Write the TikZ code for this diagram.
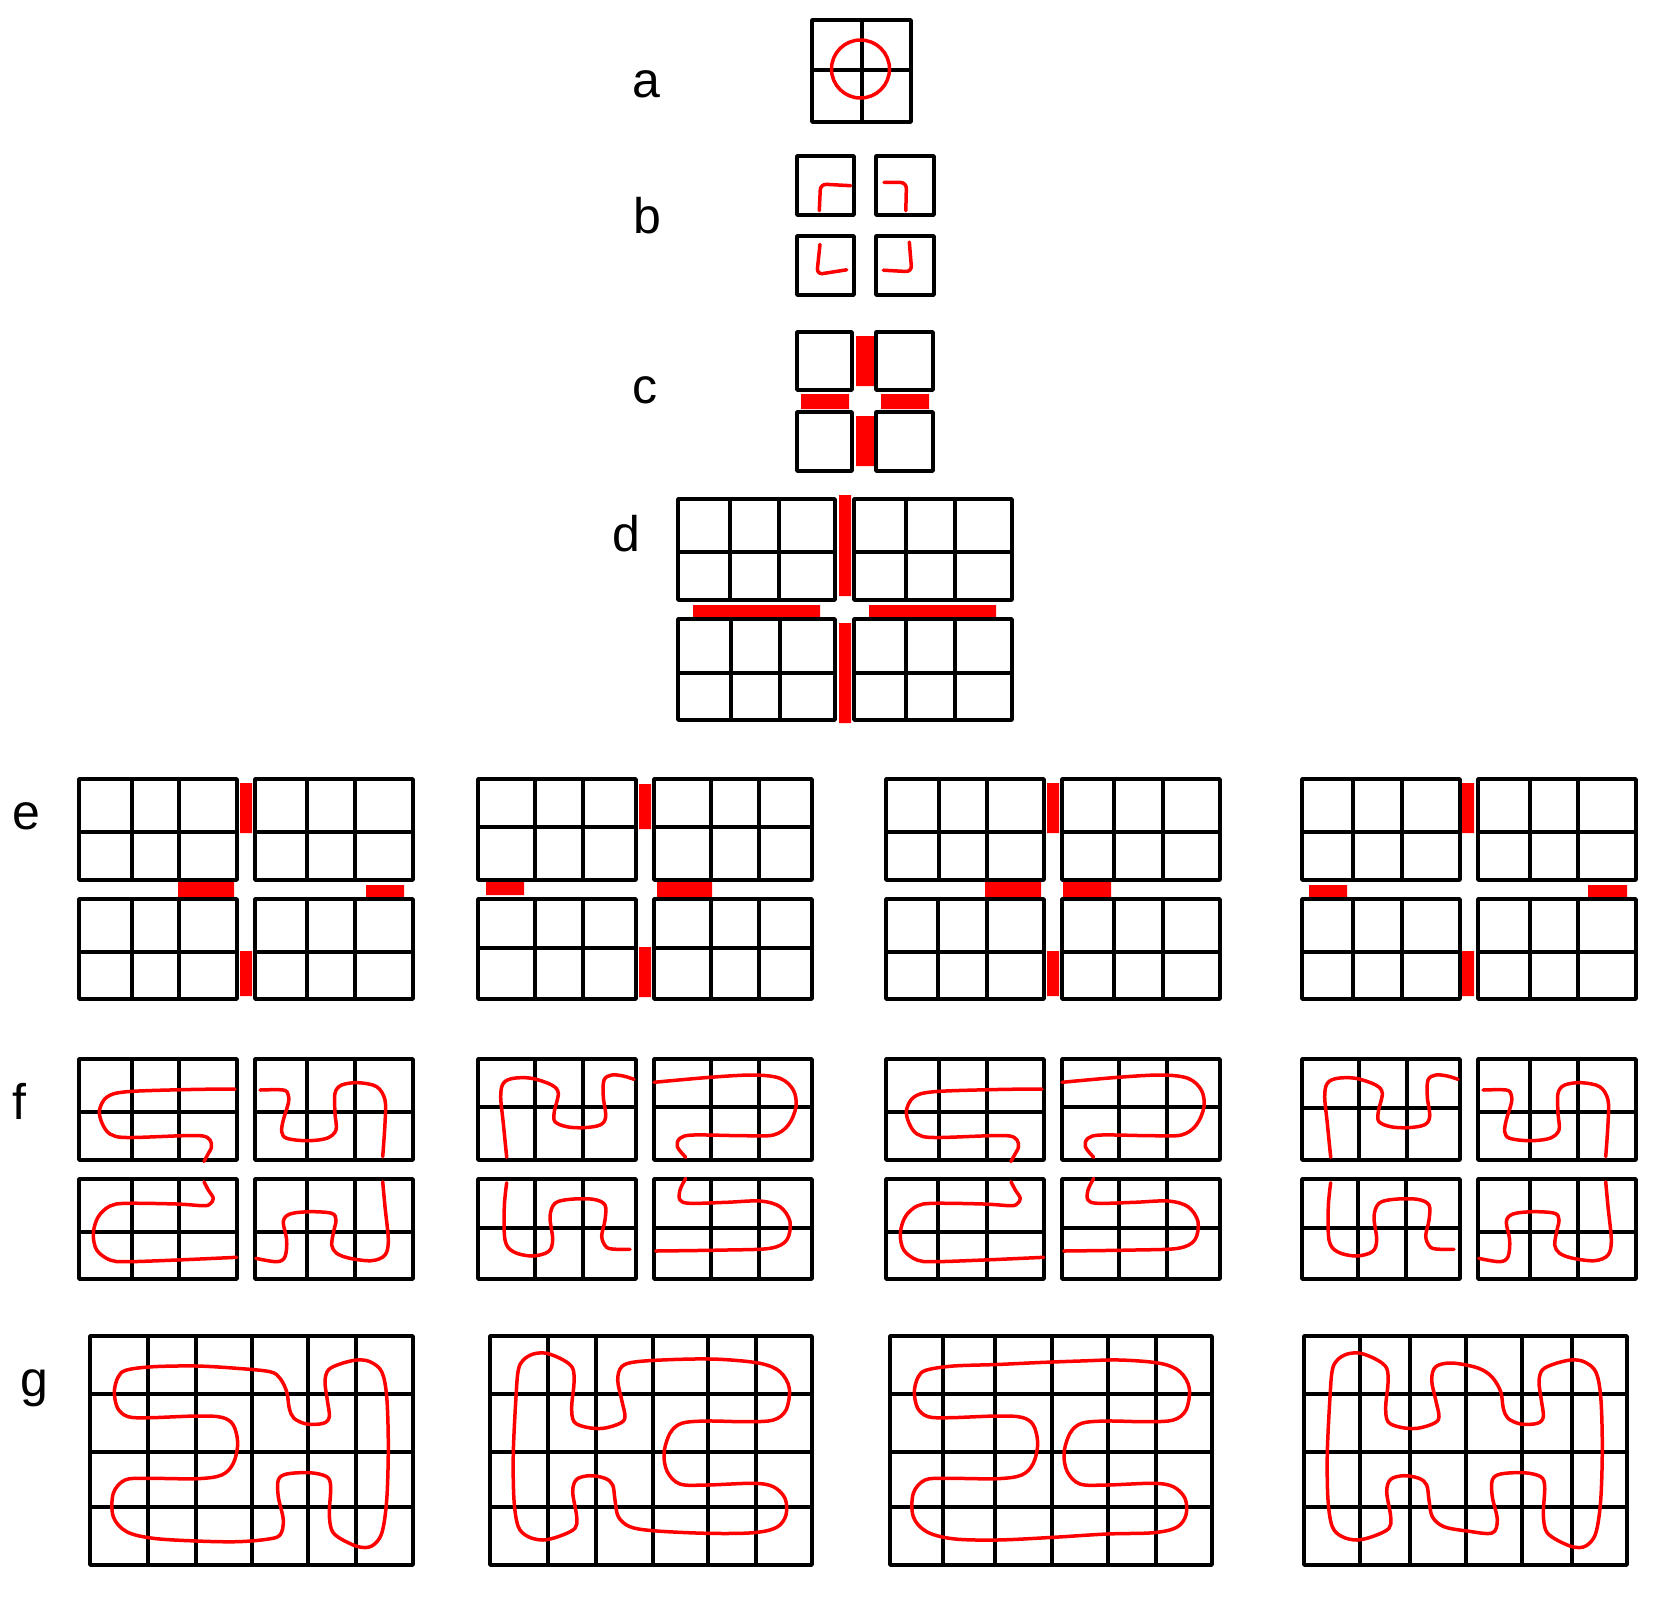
\documentclass[tikz,border=0pt]{standalone}
\usepackage{fontspec}
\setmainfont{Liberation Sans}
\newcommand\sixbox[7]{\draw[grid] (#1,#2) rectangle (#3,#4) (#5,#2) -- (#5,#4) (#6,#2) -- (#6,#4) (#1,#7) -- (#3,#7);}
\newcommand\ggrid[7]{\draw[grid] (#1,1336) rectangle (#7,1565) (#2,1336) -- (#2,1565) (#3,1336) -- (#3,1565) (#4,1336) -- (#4,1565) (#5,1336) -- (#5,1565) (#6,1336) -- (#6,1565) (#1,1394) -- (#7,1394) (#1,1452) -- (#7,1452) (#1,1507) -- (#7,1507);}
\newcommand\fTLa{\draw[curve] plot[smooth,tension=0.55] coordinates {(235,1089) (190,1089.5) (127,1091.7) (107,1097) (99.5,1110) (102,1123) (110,1134) (127,1137.5) (183,1135.7) (203,1136) (210,1140) (211.5,1147) (207.5,1155) (204,1161.5)};}
\newcommand\fBLa{\draw[curve] plot[smooth,tension=0.55] coordinates {(204,1181.7) (208.3,1190) (213.3,1198.3) (210,1204) (203.3,1205.7) (176.7,1204) (126.7,1203.3) (110,1206) (98.3,1216.7) (93.3,1233.3) (96.7,1250) (110,1260) (126.7,1261.7) (176.7,1260) (236.7,1257.3)};}
\newcommand\fTRa{\draw[curve] plot[smooth,tension=0.55] coordinates {(260,1090) (283.3,1090) (288.3,1095) (288.3,1103.3) (283.3,1120) (281.7,1131.7) (286.7,1138.3) (306.7,1140.7) (326.7,1138.3) (336,1130) (335,1113.3) (335,1093.3) (341.7,1085) (358.3,1082.7) (376.7,1086.7) (385,1100) (385,1123.3) (382.7,1156.7)};}
\newcommand\fBRa{\draw[curve] plot[smooth,tension=0.55] coordinates {(382.7,1181.7) (385,1206.7) (388.3,1240) (385,1255) (371.7,1260.7) (350,1258.3) (336.7,1253.3) (331.7,1245) (334,1230) (336,1220) (331.7,1213.3) (310,1211.7) (290,1214) (283.3,1221.7) (286.7,1240) (285,1256.7) (276.7,1261.7) (255.7,1258.3)};}
\newcommand\fTLb{\draw[curve] plot[smooth,tension=0.55] coordinates {(506.7,1157.3) (503.3,1123.3) (500.7,1096.7) (503.3,1083.3) (513.3,1078.3) (531.7,1078.3) (551.7,1085) (558.3,1093.3) (554.3,1111.7) (555,1121.7) (566.7,1126.7) (583.3,1127.7) (600,1125) (605.7,1116.7) (603.3,1096.7) (604,1080) (611.7,1075) (623.3,1076) (634,1079.3)};}
\newcommand\fTRb{\draw[curve] plot[smooth,tension=0.55] coordinates {(654,1082.3) (710,1077.3) (753.3,1075) (780,1078.3) (793.3,1090) (796,1106.7) (788.3,1125) (773.3,1135) (743.3,1135.7) (693.3,1135) (680,1138.3) (677.3,1146.7) (685.7,1157.3)};}
\newcommand\fBLb{\draw[curve] plot[smooth,tension=0.55] coordinates {(506.7,1182.7) (504.3,1206.7) (505,1240) (513.3,1251.7) (531.7,1256) (548.3,1251.7) (552.7,1240) (550,1216.7) (555,1203.3) (570,1199.3) (593.3,1199.3) (605,1205) (605,1220) (601.7,1236.7) (606.7,1247.3) (616.7,1249.3) (630,1249.3)};}
\newcommand\fBRb{\draw[curve] plot[smooth,tension=0.55] coordinates {(685.7,1178.3) (680,1190) (680,1200) (690,1203.3) (726.7,1202.3) (760,1201) (780,1206.7) (790,1221.7) (786.7,1240) (770,1248.3) (726.7,1250) (655.7,1251)};}
\begin{document}
\begin{tikzpicture}[x=0.5pt,y=-0.5pt,
  grid/.style={line width=1.75pt, line join=round, line cap=round},
  curve/.style={red, line width=1.75pt, line cap=round, line join=round},
  bar/.style={fill=red, draw=none},
  lab/.style={font=\fontsize{25}{30}\selectfont, inner sep=0pt, anchor=base west}]
\useasboundingbox (0,0) rectangle (1671,1597);
% labels
\node[lab] (la) at (632,97) {a};
\node[lab] (lb) at (633,233) {b};
\node[lab] (lc) at (632,403) {c};
\node[lab] (ld) at (612,551) {d};
\node[lab] (le) at (12,829) {e};
\node[lab] (lf) at (12,1119) {f};
\node[lab] (lg) at (20,1396) {g};
% a
\draw[grid] (812,20) rectangle (911,122) (862,20) -- (862,122) (812,70) -- (911,70);
\draw[curve] (860.5,69) circle [radius=14.5pt];
% b
\draw[grid] (797,156) rectangle (854,215) (876,156) rectangle (934,215)
  (797,236) rectangle (854,295) (876,236) rectangle (934,295);
\draw[curve, rounded corners=3pt] (850.7,185.7) -- (820.5,184) -- (819.3,210.7);
\draw[curve, rounded corners=3pt] (884,182.3) -- (906.5,182.5) -- (905.8,210.7);
\draw[curve, rounded corners=3pt] (820,244.3) -- (816.8,274.5) -- (846.7,269.8);
\draw[curve, rounded corners=3pt] (909.3,242) -- (911.8,271.8) -- (883.3,270.2);
% c
\fill[bar] (856,336) rectangle (874,386) (856,416) rectangle (874,466)
  (801,394) rectangle (849,409) (881,394) rectangle (929,409);
\draw[grid] (797,332) rectangle (852,390) (876,332) rectangle (933,390)
  (797,412) rectangle (852,471) (876,412) rectangle (933,471);
% d
\fill[bar] (839,495) rectangle (851,596) (839,623) rectangle (851,723)
  (693,605) rectangle (820,617) (869,605) rectangle (996,617);
\sixbox{678}{499}{835}{600}{730}{779}{552}
\sixbox{854}{499}{1012}{600}{906}{955}{552}
\sixbox{678}{619}{835}{720}{731}{780}{673}
\sixbox{854}{619}{1012}{720}{906}{955}{673}
% e
\fill[bar] (240,783) rectangle (252,833) (240,951) rectangle (252,996)
  (178,882) rectangle (234,897) (366,885) rectangle (404,897);
\fill[bar] (639,784) rectangle (651,829) (639,947) rectangle (651,997)
  (486,882) rectangle (524,895) (657,882) rectangle (712,897);
\fill[bar] (1047,783) rectangle (1059,833) (1047,951) rectangle (1059,996)
  (985,882) rectangle (1041,897) (1063,882) rectangle (1111,897);
\fill[bar] (1462,783) rectangle (1474,833) (1462,951) rectangle (1474,996)
  (1309,885) rectangle (1347,897) (1588,885) rectangle (1627,897);
\sixbox{79}{779}{237}{880}{132}{179}{832}
\sixbox{255}{779}{413}{880}{307}{355}{832}
\sixbox{79}{899}{237}{999}{132}{179}{952}
\sixbox{255}{899}{413}{999}{307}{355}{952}
\sixbox{478}{779}{636}{880}{535}{583}{827}
\sixbox{654}{779}{812}{880}{711}{759}{827}
\sixbox{478}{899}{636}{999}{535}{583}{948}
\sixbox{654}{899}{812}{999}{711}{759}{948}
\sixbox{886}{779}{1044}{880}{939}{987}{832}
\sixbox{1062}{779}{1220}{880}{1114}{1163}{832}
\sixbox{886}{899}{1044}{999}{938}{987}{952}
\sixbox{1062}{899}{1220}{999}{1114}{1163}{952}
\sixbox{1302}{779}{1460}{880}{1353}{1402}{832}
\sixbox{1478}{779}{1636}{880}{1530}{1578}{832}
\sixbox{1302}{899}{1460}{999}{1353}{1402}{952}
\sixbox{1478}{899}{1636}{999}{1530}{1578}{952}
% f grids
\sixbox{79}{1059}{237}{1160}{132}{179}{1112}
\sixbox{255}{1059}{413}{1160}{307}{355}{1112}
\sixbox{79}{1179}{237}{1279}{132}{179}{1232}
\sixbox{255}{1179}{413}{1279}{307}{355}{1232}
\sixbox{478}{1059}{636}{1160}{535}{583}{1107}
\sixbox{654}{1059}{812}{1160}{711}{759}{1107}
\sixbox{478}{1179}{636}{1279}{535}{583}{1228}
\sixbox{654}{1179}{812}{1279}{711}{759}{1228}
\sixbox{886}{1059}{1044}{1160}{939}{987}{1112}
\sixbox{1062}{1059}{1220}{1160}{1119}{1167}{1107}
\sixbox{886}{1179}{1044}{1279}{938}{987}{1232}
\sixbox{1062}{1179}{1220}{1279}{1119}{1167}{1228}
\sixbox{1302}{1059}{1460}{1160}{1359}{1407}{1108}
\sixbox{1478}{1059}{1636}{1160}{1530}{1578}{1112}
\sixbox{1302}{1179}{1460}{1279}{1358}{1406}{1228}
\sixbox{1478}{1179}{1636}{1279}{1530}{1578}{1232}
% f curves
\fTLa \fBLa \fTRa \fBRa
\fTLb \fTRb \fBLb \fBRb
\begin{scope}[shift={(807,0)}] \fTLa \fBLa \end{scope}
\begin{scope}[shift={(408,0)}] \fTRb \fBRb \end{scope}
\begin{scope}[shift={(824,0)}] \fTLb \fBLb \end{scope}
\begin{scope}[shift={(1223,0)}] \fTRa \fBRa \end{scope}
% g grids
\ggrid{90}{148}{196}{252}{308}{356}{413}
\ggrid{490}{548}{596}{653}{708}{756}{812}
\ggrid{890}{943}{995}{1052}{1108}{1156}{1212}
\ggrid{1304}{1360}{1410}{1466}{1522}{1572}{1627}
% g curves
\draw[curve] plot[smooth cycle,tension=0.55] coordinates {
(126.7,1370) (153.3,1366.7) (196.7,1366) (236.7,1368.3) (270,1371.7) (280,1378.3) (286.7,1391.7) (289.3,1408.3) (294,1418.3) (306.7,1424) (323.3,1423.3) (329.3,1416.7) (327.3,1400) (325,1381.7) (328.3,1370) (340,1364) (356.7,1360) (370,1361.7) (381.7,1371.7) (386.7,1396.7) (388.3,1446.7) (386.7,1500) (381.7,1533.3) (371.7,1546) (358.3,1546.7) (340,1538.3) (331.7,1530) (329.3,1513.3) (330.7,1486.7) (326.7,1476.7) (310,1472.7) (286.7,1474) (278.3,1480) (278.3,1496.7) (283.3,1520) (280,1535) (266.7,1539.3) (236.7,1541.7) (196.7,1541) (153.3,1538.3) (126.7,1531.7) (113.3,1516.7) (113.3,1493.3) (125,1480) (146.7,1478.3) (196.7,1478.7) (221.7,1475) (233.3,1463.3) (237.7,1443.3) (233.3,1425) (221.7,1417.3) (196.7,1416) (150,1417.7) (128.3,1416.7) (117.7,1408.3) (114.3,1391.7) (118.3,1376.7)};
\draw[curve] plot[smooth cycle,tension=0.55] coordinates {
(523.3,1360) (533.3,1354) (546.7,1353.3) (563.3,1360) (572.7,1368.3) (574,1383.3) (571.7,1406.7) (574,1421.7) (586.7,1427.3) (603.3,1428.3) (620,1423.3) (625,1416.7) (621.7,1400) (617.7,1380) (621.7,1366.7) (636.7,1361.7) (680,1359.3) (720,1359.3) (760,1363.3) (780,1371.7) (789.3,1388.3) (786,1410) (773.3,1420) (746.7,1421.7) (706.7,1421) (681.7,1423.3) (670,1433.3) (664,1453.3) (667.3,1471.7) (680,1484) (706.7,1485) (753.3,1483.3) (773.3,1486.7) (785,1498.3) (786,1515) (776.7,1527.3) (753.3,1532.7) (706.7,1533.3) (653.3,1530.7) (630,1526.7) (618.3,1516.7) (615,1500) (612.7,1485) (605,1478.3) (590,1475.7) (576.7,1479.3) (572.7,1491.7) (576.7,1516.7) (575,1528.3) (560,1536) (543.3,1540) (528.3,1536.7) (518.3,1526.7) (514,1500) (513.3,1453.3) (516,1396.7) (518.3,1370)};
\draw[curve] plot[smooth cycle,tension=0.55] coordinates {
(926.7,1370) (953.3,1366) (996.7,1364.5) (1040,1362.5) (1080,1361) (1120,1360) (1160,1363.3) (1180,1371.7) (1189.3,1388.3) (1186,1410) (1173.3,1420) (1146.7,1421.7) (1106.7,1421) (1081.7,1423.3) (1070,1433.3) (1064,1453.3) (1067.3,1471.7) (1080,1484) (1106.7,1485) (1153.3,1483.3) (1173.3,1486.7) (1185,1498.3) (1186,1515) (1176.7,1527.3) (1153.3,1532.7) (1106.7,1534) (1050,1537.5) (996.7,1540) (953.3,1538.8) (926.7,1531.7) (913.3,1516.7) (913.3,1493.3) (925,1480) (946.7,1478.3) (996.7,1478.7) (1021.7,1475) (1033.3,1463.3) (1037.7,1443.3) (1033.3,1425) (1021.7,1417.3) (996.7,1416) (950,1417.7) (928.3,1416.7) (917.7,1408.3) (914.3,1391.7) (918.3,1376.7)};
\draw[curve] plot[smooth cycle,tension=0.55] coordinates {
(1337.3,1360) (1347.3,1354) (1360.7,1353.3) (1377.3,1360) (1386.7,1368.3) (1388,1383.3) (1385.7,1406.7) (1388,1421.7) (1400.7,1427.3) (1417.3,1428.3) (1434,1423.3) (1439,1416.7) (1435.7,1400) (1431.7,1380) (1435.7,1366.7) (1452,1363) (1478,1368) (1492,1377) (1500.7,1391.7) (1503.3,1408.3) (1508,1418.3) (1520.7,1424) (1537.3,1423.3) (1543.3,1416.7) (1541.3,1400) (1539,1381.7) (1542.3,1370) (1554,1364) (1570.7,1360) (1584,1361.7) (1595.7,1371.7) (1600.7,1396.7) (1602.3,1446.7) (1600.7,1500) (1595.7,1533.3) (1585.7,1546) (1572.3,1546.7) (1554,1538.3) (1545.7,1530) (1543.3,1513.3) (1544.7,1486.7) (1540.7,1476.7) (1524,1472.7) (1500.7,1474) (1492.3,1480) (1492.3,1496.7) (1497.3,1520) (1492,1533) (1467.3,1531) (1444,1526.7) (1432.3,1516.7) (1429,1500) (1426.7,1485) (1419,1478.3) (1404,1475.7) (1390.7,1479.3) (1386.7,1491.7) (1390.7,1516.7) (1389,1528.3) (1374,1536) (1357.3,1540) (1342.3,1536.7) (1332.3,1526.7) (1328,1500) (1327.3,1453.3) (1330,1396.7) (1332.3,1370)};
\end{tikzpicture}
\end{document}
